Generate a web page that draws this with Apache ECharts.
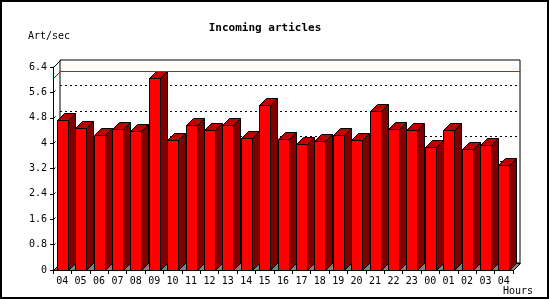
<!DOCTYPE html>
<html>
<head>
<meta charset="utf-8">
<script src="https://cdn.jsdelivr.net/npm/echarts@6/dist/echarts.min.js"></script>
<style>html,body{margin:0;padding:0;background:#fff}#c{width:550px;height:300px}</style>
</head>
<body>
<div id="c"></div>
<script>
const hours = ['04','05','06','07','08','09','10','11','12','13','14','15','16','17','18','19','20','21','22','23','00','01','02','03','04'];
const artPerSec = [4.73,4.47,4.25,4.43,4.38,6.04,4.09,4.56,4.41,4.56,4.15,5.19,4.12,3.96,4.06,4.25,4.09,5.01,4.43,4.40,3.87,4.40,3.80,3.93,3.30];
const titleText = 'Incoming articles';
const yName = 'Art/sec';
const xName = 'Hours';
const yMin = 0, yMax = 6.4, yStep = 0.8;

const DEPTH = 7;
const FONT = '"DejaVu Sans Mono", monospace';
const maxVal = Math.max(...artPerSec);

const chart = echarts.init(document.getElementById('c'), null, {renderer: 'canvas'});

function renderBar(params, api) {
  const i = api.value(0), v = api.value(1);
  const p = api.coord([i, v]);
  const b = api.coord([i, 0]);
  const left = Math.round(p[0] - 5.5) + 0.5;
  const right = left + 11;
  const top = Math.round(p[1]) + 0.5;
  const bot = Math.round(b[1]) + 0.5;
  const st = {stroke: '#000', lineWidth: 1};
  return {
    type: 'group',
    children: [
      {type: 'polygon', shape: {points: [[right, top], [right + DEPTH, top - DEPTH], [right + DEPTH, bot - DEPTH], [right, bot]]},
        style: Object.assign({fill: '#800000'}, st)},
      {type: 'polygon', shape: {points: [[left, top], [left + DEPTH, top - DEPTH], [right + DEPTH, top - DEPTH], [right, top]]},
        style: Object.assign({fill: '#c00000'}, st)},
      {type: 'rect', shape: {x: left, y: top, width: right - left, height: bot - top},
        style: Object.assign({fill: '#ff0000'}, st)}
    ]
  };
}

function renderFrame(params, api) {
  const cs = params.coordSys;
  const L = cs.x + 0.5, R = cs.x + cs.width + 0.5, T = cs.y + 0.5, B = cs.y + cs.height + 0.5;
  const my = Math.round(api.coord([0, maxVal])[1]) + 0.5;
  const children = [
    {type: 'polygon', shape: {points: [[L, B], [R, B], [R + DEPTH, B - DEPTH], [L + DEPTH, B - DEPTH]]},
      style: {fill: '#808080', stroke: '#000', lineWidth: 1}},
    {type: 'line', shape: {x1: L, y1: T, x2: L + DEPTH, y2: T - DEPTH}, style: {stroke: '#000', lineWidth: 1}},
    {type: 'line', shape: {x1: L, y1: my, x2: L + DEPTH, y2: my - DEPTH}, style: {stroke: '#ff0000', lineWidth: 1}}
  ];
  for (let v = yStep; v < yMax - 1e-6; v += yStep) {
    const y = Math.round(api.coord([0, v])[1]) + 0.5;
    children.push({type: 'line', shape: {x1: L, y1: y, x2: L + 2, y2: y - 2}, style: {stroke: '#000', lineWidth: 1}});
  }
  return {type: 'group', children};
}

const option = {
  backgroundColor: '#fff',
  animation: false,
  title: {
    text: titleText, left: 260, textAlign: 'center', top: 18,
    textStyle: {fontFamily: FONT, fontWeight: 'bold', fontSize: 11, color: '#000'}
  },
  graphic: [
    {type: 'rect', shape: {x: 1, y: 1, width: 547, height: 297}, style: {fill: null, stroke: '#000', lineWidth: 2}, z: 100},
    {type: 'text', left: 28, top: 31, style: {text: yName, font: '10px ' + FONT, fill: '#000'}},
    {type: 'text', left: 503, top: 286, style: {text: xName, font: '10px ' + FONT, fill: '#000'}}
  ],
  grid: [
    {left: 53, right: 37, top: 67, bottom: 30},
    {left: 60, right: 30, top: 60, bottom: 37, show: true, borderColor: '#000', borderWidth: 1, backgroundColor: 'transparent', z: 0}
  ],
  xAxis: [
    {type: 'category', gridIndex: 0, data: hours, boundaryGap: true,
      axisLine: {show: false},
      axisTick: {show: true, length: 4, lineStyle: {color: '#000'}},
      axisLabel: {fontFamily: FONT, fontSize: 10, color: '#000', margin: 6, interval: 0},
      splitLine: {show: false}, z: 10},
    {type: 'category', gridIndex: 1, data: hours, show: false, boundaryGap: true}
  ],
  yAxis: [
    {type: 'value', gridIndex: 0, min: yMin, max: yMax, interval: yStep,
      axisLine: {show: true, lineStyle: {color: '#000'}},
      axisTick: {show: true, length: 3, lineStyle: {color: '#000'}},
      axisLabel: {fontFamily: FONT, fontSize: 10, color: '#000', margin: 6},
      splitLine: {show: false}, z: 10},
    {type: 'value', gridIndex: 1, min: yMin, max: yMax, interval: yStep,
      axisLine: {show: false}, axisTick: {show: false}, axisLabel: {show: false},
      splitLine: {show: true, showMinLine: false, showMaxLine: false, lineStyle: {color: '#000', type: [2, 3], width: 1}}}
  ],
  series: [
    {type: 'line', xAxisIndex: 1, yAxisIndex: 1, data: [], silent: true, z: 1,
      markLine: {silent: true, symbol: ['none', 'none'], label: {show: false}, animation: false,
        lineStyle: {color: '#ff0000', type: 'solid', width: 1},
        data: [{yAxis: maxVal}]}},
    {type: 'custom', xAxisIndex: 0, yAxisIndex: 0, renderItem: renderFrame, data: [[0, 0]], z: 1, silent: true},
    {type: 'custom', xAxisIndex: 0, yAxisIndex: 0, renderItem: renderBar,
      data: artPerSec.map((v, i) => [i, v]), z: 3, silent: true}
  ]
};
chart.setOption(option);
</script>
</body>
</html>
